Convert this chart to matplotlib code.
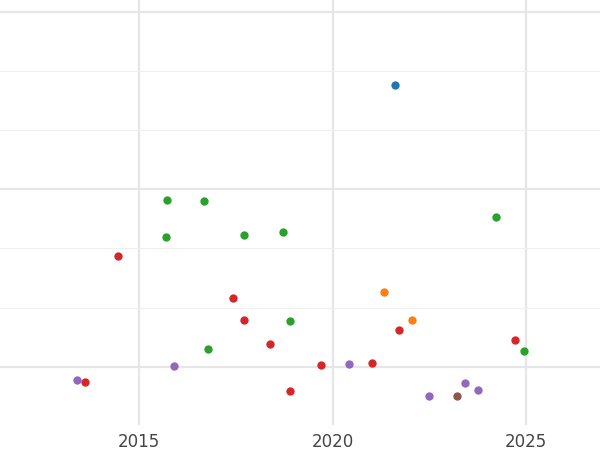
import matplotlib
matplotlib.use("Agg")
import matplotlib.pyplot as plt
from matplotlib.ticker import MultipleLocator

# series values (x = year, y = arbitrary units)
blue_x = [2021.62]
blue_y = [4.76]
green_x = [2015.72, 2016.68, 2015.70, 2017.71, 2018.72, 2024.22, 2018.90, 2016.78, 2024.95]
green_y = [2.82, 2.80, 2.20, 2.23, 2.28, 2.53, 0.78, 0.30, 0.27]
red_x = [2014.46, 2017.43, 2017.71, 2018.39, 2019.70, 2021.02, 2018.90, 2021.72, 2024.72, 2013.60]
red_y = [1.88, 1.17, 0.79, 0.39, 0.03, 0.07, -0.41, 0.62, 0.46, -0.25]
orange_x = [2021.33, 2022.05]
orange_y = [1.27, 0.79]
purple_x = [2013.40, 2015.90, 2020.43, 2022.49, 2023.42, 2023.76]
purple_y = [-0.22, 0.02, 0.05, -0.49, -0.27, -0.39]
brown_x = [2023.22]
brown_y = [-0.49]

series = [(blue_x, blue_y, "#1f77b4"), (green_x, green_y, "#2ca02c"),
          (red_x, red_y, "#d62728"), (orange_x, orange_y, "#ff7f0e"),
          (purple_x, purple_y, "#9467bd"), (brown_x, brown_y, "#8c564b")]

fig = plt.figure(figsize=(6, 4.5), dpi=100)
ax = fig.add_axes([0, 0.056, 1, 0.944])
for xs, ys, c in series:
    ax.scatter(xs, ys, s=36, color=c, zorder=3, linewidths=0)

ax.set_xlim(2011.41, 2026.91)
ax.set_ylim(-0.98, 6.2)
ax.xaxis.set_major_locator(MultipleLocator(5))
ax.yaxis.set_major_locator(MultipleLocator(3))
ax.yaxis.set_minor_locator(MultipleLocator(1))
ax.grid(which="major", color="#e6e6e6", lw=1.6)
ax.grid(which="minor", axis="y", color="#efefef", lw=0.8)
ax.set_axisbelow(True)
for sp in ax.spines.values():
    sp.set_visible(False)
ax.tick_params(which="both", length=0)
ax.tick_params(axis="x", labelsize=12, labelcolor="#444444", pad=6)
ax.set_yticklabels([])
fig.savefig("out.png", dpi=100)
